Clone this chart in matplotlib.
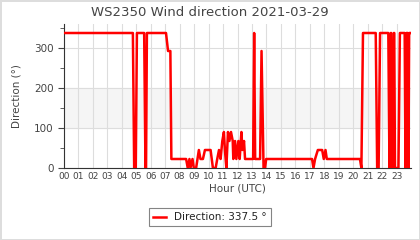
import matplotlib.pyplot as plt
import matplotlib.ticker as mticker

# wind direction samples (hour of day, degrees)
hours = [0.0, 4.77, 4.86, 4.97, 5.05, 5.55, 5.64, 5.68, 5.74, 7.06, 7.2, 7.36, 7.43,
         8.45, 8.56, 8.68, 8.75, 8.89, 8.98, 9.14, 9.33, 9.44, 9.61, 9.75, 10.14,
         10.30, 10.49, 10.60, 10.72, 10.83, 10.95, 11.06, 11.13, 11.23, 11.34, 11.44,
         11.55, 11.67, 11.71, 11.83, 11.92, 12.06, 12.15, 12.27, 12.34, 12.45, 12.52,
         13.08, 13.15, 13.22, 13.56, 13.66, 13.8, 13.9, 13.98,
         17.15, 17.25, 17.36, 17.55, 17.85, 17.96, 18.08, 18.17,
         20.46, 20.56, 20.67, 21.55, 21.65, 21.75, 21.85, 22.42, 22.5, 22.59, 22.62,
         22.69, 22.75, 22.8, 22.83, 22.88, 23.12, 23.22, 23.55, 23.61, 23.67, 23.76,
         23.81, 23.86, 23.93, 23.97]
dirs = [337.5, 337.5, 0, 0, 337.5, 337.5, 0, 0, 337.5, 337.5, 292.5, 292.5, 22.5,
        22.5, 0, 22.5, 0, 22.5, 0, 0, 45, 22.5, 22.5, 45, 45,
        0, 0, 22.5, 45, 22.5, 67.5, 90, 45, 0, 90, 67.5,
        90, 67.5, 22.5, 67.5, 22.5, 67.5, 22.5, 90, 45, 67.5, 22.5,
        22.5, 337.5, 22.5, 22.5, 292.5, 0, 0, 22.5,
        22.5, 0, 22.5, 45, 45, 22.5, 45, 22.5,
        22.5, 0, 337.5, 337.5, 0, 0, 337.5, 337.5, 0, 337.5, 337.5,
        0, 0, 337.5, 337.5, 0, 0, 337.5, 337.5, 0, 337.5, 337.5,
        0, 337.5, 337.5, 337.5]
hour_labels = [f"{h:02d}" for h in range(24)]
latest = dirs[-1]

fig = plt.figure(figsize=(4.2, 2.4), dpi=100)
fig.patch.set_edgecolor("#dddddd")
fig.patch.set_linewidth(2)
ax = fig.add_axes([0.152, 0.30, 0.827, 0.60])

ax.axhspan(100, 200, color="#f5f5f5", zorder=0)
line, = ax.plot(hours, dirs, color="#ff0000", lw=1.8, zorder=3)

ax.set_xlim(0, 24)
ax.set_ylim(0, 360)
ax.set_xticks(range(24))
ax.set_xticklabels(hour_labels)
ax.set_yticks([0, 100, 200, 300])
ax.yaxis.set_minor_locator(mticker.MultipleLocator(50))
ax.grid(True, color="#dddddd", lw=0.8, zorder=1)

for s in ("top", "right"):
    ax.spines[s].set_visible(False)
for s in ("left", "bottom"):
    ax.spines[s].set_color("#333333")
ax.tick_params(axis="x", labelsize=6.5, colors="#444444", length=0, pad=3)
ax.tick_params(axis="y", labelsize=7.5, colors="#444444", length=4)
ax.tick_params(axis="y", which="minor", length=3, colors="#444444")

fig.text(0.5, 0.95, "WS2350 Wind direction 2021-03-29", ha="center", va="center",
         fontsize=9.5, color="#444444")
ax.set_xlabel("Hour (UTC)", fontsize=7.5, color="#444444", labelpad=2)
ax.set_ylabel("Direction (°)", fontsize=7.5, color="#444444", labelpad=9)

leg = fig.legend([line], [f"Direction: {latest} °"], loc="upper center",
                 bbox_to_anchor=(0.5, 0.155), fontsize=7.5, fancybox=False,
                 edgecolor="#666666", handlelength=1.2, borderpad=0.4)
leg.get_frame().set_linewidth(0.8)
for t in leg.get_texts():
    t.set_color("#222222")

fig.savefig("out.png", dpi=100, edgecolor=fig.get_edgecolor())
